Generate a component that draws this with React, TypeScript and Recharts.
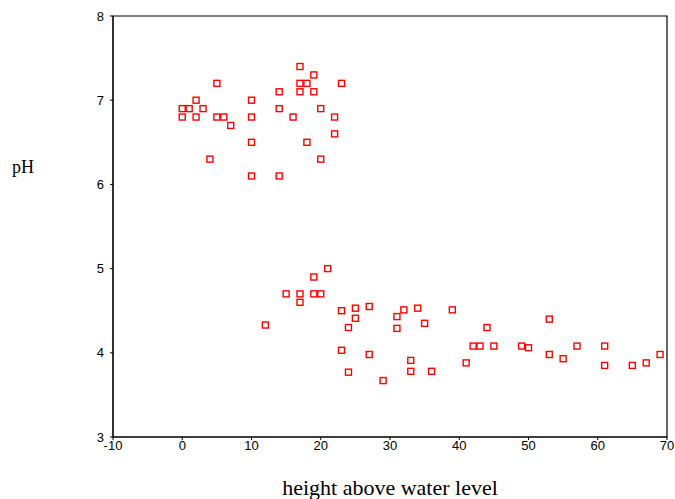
import React from 'react';
import { ScatterChart, Scatter, XAxis, YAxis, ReferenceArea } from 'recharts';

// height above water level (x) and pH (y)
const heights = [
  17, 19, 5, 17, 18, 23, 14, 17, 19, 2, 10, 0, 1, 3, 14, 20, 0, 2, 5, 6, 10, 16, 22, 7, 22, 10, 18, 4, 20, 10, 14,
  21, 19, 15, 17, 19, 20, 17, 12, 23, 25, 25, 27, 24, 23, 27, 24, 29, 31, 31, 32, 34, 35, 39, 33, 33, 36, 41,
  44, 53, 42, 43, 45, 49, 50, 57, 61, 53, 55, 61, 65, 67, 69,
];
const phValues = [
  7.4, 7.3, 7.2, 7.2, 7.2, 7.2, 7.1, 7.1, 7.1, 7.0, 7.0, 6.9, 6.9, 6.9, 6.9, 6.9, 6.8, 6.8, 6.8, 6.8, 6.8, 6.8, 6.8,
  6.7, 6.6, 6.5, 6.5, 6.3, 6.3, 6.1, 6.1,
  5.0, 4.9, 4.7, 4.7, 4.7, 4.7, 4.6, 4.33, 4.5, 4.53, 4.41, 4.55, 4.3, 4.03, 3.98, 3.77, 3.67, 4.43, 4.29, 4.51,
  4.53, 4.35, 4.51, 3.91, 3.78, 3.78, 3.88,
  4.3, 4.4, 4.08, 4.08, 4.08, 4.08, 4.06, 4.08, 4.08, 3.98, 3.93, 3.85, 3.85, 3.88, 3.98,
];
const xTicks = [-10, 0, 10, 20, 30, 40, 50, 60, 70];
const yTicks = [3, 4, 5, 6, 7, 8];

const data = heights.map((h, i) => ({ height: h, ph: phValues[i] }));

const tickStyle = { fontFamily: 'Liberation Sans, Arial, sans-serif', fontSize: 13, fill: '#000' };
const serif = 'Liberation Serif, Times New Roman, serif';

const SquareMarker = (props: any) => {
  const { cx, cy } = props;
  if (cx == null || cy == null) return null;
  return <rect x={cx - 3} y={cy - 3} width={6} height={6} fill="#fff" stroke="#ff0000" strokeWidth={1.4} />;
};

export default function App() {
  return (
    <div style={{ position: 'absolute', left: 0, top: 0, width: 675, height: 499, background: '#fff' }}>
      <ScatterChart width={675} height={499} margin={{ top: 16, right: 8, bottom: 32, left: 63 }}>
        <XAxis
          type="number"
          dataKey="height"
          domain={[-10, 70]}
          ticks={xTicks}
          interval={0}
          tickSize={3}
          tickMargin={1}
          height={30}
          stroke="#000"
          tick={tickStyle}
          allowDataOverflow
        />
        <YAxis
          type="number"
          dataKey="ph"
          domain={[3, 8]}
          ticks={yTicks}
          interval={0}
          tickSize={3}
          tickMargin={6}
          width={50}
          stroke="#000"
          tick={tickStyle}
          allowDataOverflow
        />
        <ReferenceArea x1={-10} x2={70} y1={3} y2={8} fill="none" stroke="#000" strokeWidth={1.2} strokeOpacity={1} />
        <Scatter data={data} shape={SquareMarker} isAnimationActive={false} />
      </ScatterChart>
      <div style={{ position: 'absolute', left: 12, top: 157, fontFamily: serif, fontSize: 18, lineHeight: '20px' }}>
        pH
      </div>
      <div
        style={{
          position: 'absolute',
          left: 113,
          width: 554,
          top: 476,
          textAlign: 'center',
          fontFamily: serif,
          fontSize: 22,
          lineHeight: '24px',
        }}
      >
        height above water level
      </div>
    </div>
  );
}
